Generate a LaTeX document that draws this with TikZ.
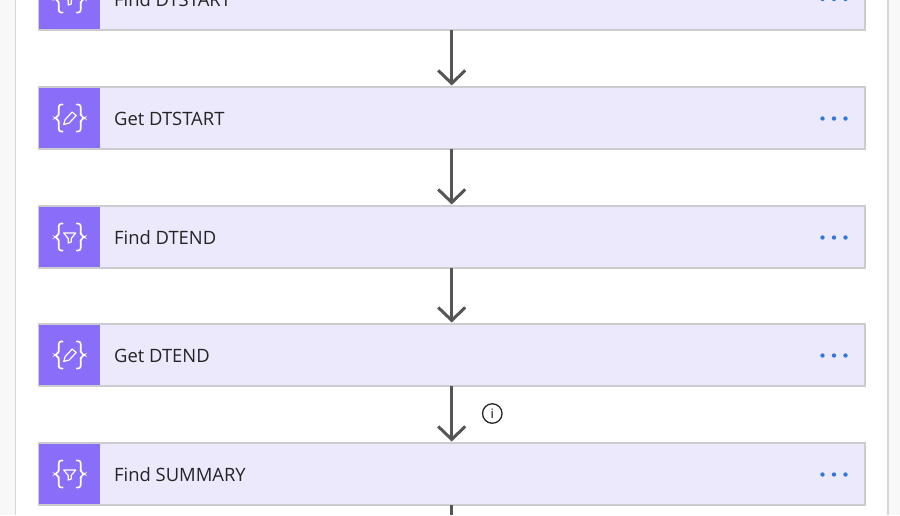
\documentclass[tikz,border=0pt]{standalone}
\usepackage{fontspec}
\setmainfont{Open Sans}
\usepackage{xcolor}
\usetikzlibrary{arrows.meta,positioning}
\definecolor{pagegray}{HTML}{F8F8F8}
\definecolor{panelline}{HTML}{D6D6D6}
\definecolor{boxline}{HTML}{CBCBD0}
\definecolor{boxfill}{HTML}{ECE9FD}
\definecolor{iconfill}{HTML}{8A6EFA}
\definecolor{arrowgray}{HTML}{555555}
\definecolor{dotblue}{HTML}{2F78D8}
\definecolor{labelink}{HTML}{242424}

\begin{document}
\begin{tikzpicture}[
    x=1pt, y=-1pt,
    stepbox/.style={draw=boxline, line width=1.5pt, fill=boxfill, rectangle, minimum width=826pt, minimum height=62pt,
                    inner sep=0pt, outer sep=0pt},
    iconbox/.style={fill=iconfill, rectangle, minimum width=60.5pt, minimum height=60.5pt, inner sep=0pt},
    steplabel/.style={font=\fontsize{18.4}{20}\selectfont, text=labelink, inner sep=0pt, anchor=west},
    arrow/.style={-{Straight Barb[length=13pt, width=27pt, line width=3pt]}, line width=3pt, draw=arrowgray,
                  shorten >=1.5pt},
    infomark/.style={draw=black!85, line width=1.3pt, circle, minimum size=19.5pt, inner sep=0pt,
                     font=\fontsize{13}{13}\selectfont},
    bracepair/.pic={
        \draw[white, line width=1.6pt, line cap=round, rounded corners=2.5pt]
            (-7,-13.5) -- (-11,-13.5) -- (-11,-2) -- (-15,0) -- (-11,2) -- (-11,13.5) -- (-7,13.5);
        \draw[white, line width=1.6pt, line cap=round, rounded corners=2.5pt]
            (7,-13.5) -- (11,-13.5) -- (11,-2) -- (15,0) -- (11,2) -- (11,13.5) -- (7,13.5);
    },
    funnelicon/.pic={
        \pic {bracepair};
        \draw[white, line width=1.2pt, line join=round]
            (-6,-4) -- (6,-4) -- (1.5,1.5) -- (1.5,5) -- (-1.5,6) -- (-1.5,1.5) -- cycle;
    },
    pencilicon/.pic={
        \pic {bracepair};
        \draw[white, line width=1.2pt, line join=round]
            (-6,6.5) -- (-4.5,1.5) -- (2.5,-6) -- (6.5,-2.5) -- (-0.5,5) -- cycle;
    },
    dotsicon/.pic={
        \fill[dotblue] (-11.5,0) circle (2.2pt);
        \fill[dotblue] (0,0) circle (2.2pt);
        \fill[dotblue] (11.5,0) circle (2.2pt);
    }
]
    \clip (0,0) rectangle (900,515);
    % Page and panel
    \fill[pagegray] (0,0) rectangle (900,515);
    \fill[white] (15.5,0) rectangle (888,515);
    \draw[panelline, line width=1.5pt] (15.5,0) -- (15.5,515);
    \draw[panelline, line width=1.5pt] (888,0) -- (888,515);

    % Steps
    \node[stepbox] (finddtstart) at (452,-1) {};
    \node[stepbox] (getdtstart) at (452,118) {};
    \node[stepbox] (finddtend) at (452,237) {};
    \node[stepbox] (getdtend) at (452,355) {};
    \node[stepbox] (findsummary) at (452,474) {};

    % Icon squares
    \node[iconbox] (finddtstarticon) at (69.7,-1) {};
    \node[iconbox] (getdtstarticon) at (69.7,118) {};
    \node[iconbox] (finddtendicon) at (69.7,237) {};
    \node[iconbox] (getdtendicon) at (69.7,355) {};
    \node[iconbox] (findsummaryicon) at (69.7,474) {};
    \pic at (finddtstarticon) {funnelicon};
    \pic at (getdtstarticon) {pencilicon};
    \pic at (finddtendicon) {funnelicon};
    \pic at (getdtendicon) {pencilicon};
    \pic at (findsummaryicon) {funnelicon};

    % Labels
    \node[steplabel] (finddtstartlabel) at (114,0) {Find DTSTART};
    \node[steplabel] (getdtstartlabel) at (114,119) {Get DTSTART};
    \node[steplabel] (finddtendlabel) at (114,238) {Find DTEND};
    \node[steplabel] (getdtendlabel) at (114,356) {Get DTEND};
    \node[steplabel] (findsummarylabel) at (114,475) {Find SUMMARY};

    % Menu dots
    \pic at (834,-1) {dotsicon};
    \pic at (834,118.5) {dotsicon};
    \pic at (834,237.5) {dotsicon};
    \pic at (834,355.5) {dotsicon};
    \pic at (834,474.5) {dotsicon};

    % Arrows
    \draw[arrow] (finddtstart.south -| 451.7,0) -- (getdtstart.north -| 451.7,0);
    \draw[arrow] (getdtstart.south -| 451.7,0) -- (finddtend.north -| 451.7,0);
    \draw[arrow] (finddtend.south -| 451.7,0) -- (getdtend.north -| 451.7,0);
    \draw[arrow] (getdtend.south -| 451.7,0) -- (findsummary.north -| 451.7,0);
    \coordinate (offpage) at (451.7,515);
    \draw[line width=3pt, draw=arrowgray] (findsummary.south -| offpage) -- (offpage);

    % Info mark
    \node[infomark] (info) at (492.3,413.5) {i};
\end{tikzpicture}
\end{document}
